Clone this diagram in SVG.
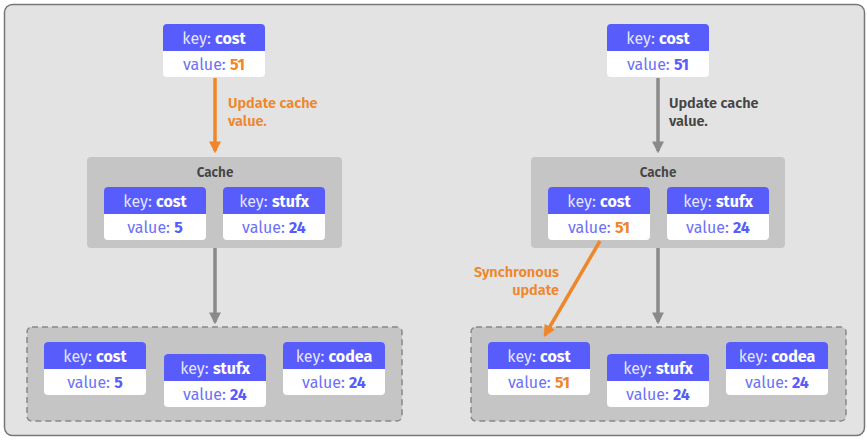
<svg xmlns="http://www.w3.org/2000/svg" width="867" height="440" viewBox="0 0 867 440">
<style>
text{font-family:"Fira Sans","Noto Sans","Open Sans",sans-serif}
.hd{fill:#575cfb}
.bd{fill:#fff}
.k{fill:#fff;font-size:16px;text-anchor:middle;fill-opacity:0.85}
.k tspan{font-weight:700;fill-opacity:1}
.v{fill:#6d71f7;font-size:16px;text-anchor:middle}
.v tspan{font-weight:700;fill:#575cfb}
.v tspan.o{fill:#ef8629}
.cache{fill:#c5c5c5}
.store{fill:#c5c5c5;stroke:#888;stroke-width:1.5;stroke-dasharray:6 4}
.title{font-size:13.5px;font-weight:600;fill:#444;text-anchor:middle}
.lbl{font-size:14.5px;font-weight:600}
.ga{stroke:#8a8a8a;stroke-width:3.5;fill:none}
.oa{stroke:#ef8629;stroke-width:3.5;fill:none}
</style>
<defs>
<marker id="mg" viewBox="0 0 10 10" refX="8" refY="5" markerWidth="3.4" markerHeight="3.4" orient="auto" markerUnits="strokeWidth"><path d="M0,0 L10,5 L0,10 Z" fill="#8a8a8a"/></marker>
<marker id="mo" viewBox="0 0 10 10" refX="8" refY="5" markerWidth="3.4" markerHeight="3.4" orient="auto" markerUnits="strokeWidth"><path d="M0,0 L10,5 L0,10 Z" fill="#ef8629"/></marker>
<g id="nodeshape">
<rect class="bd" x="0" y="0" width="102" height="53" rx="4"/>
<path class="hd" d="M0,27 V4 Q0,0 4,0 H98 Q102,0 102,4 V27 Z"/>
</g>
</defs>
<rect x="4.5" y="4.5" width="860" height="431" rx="8" fill="#e3e3e3" stroke="#777" stroke-width="1.5"/>

<g id="left-cache">
<rect class="cache" x="87" y="157" width="255" height="91" rx="4"/>
<text class="title" x="215" y="177">Cache</text>
</g>
<g id="left-store">
<rect class="store" x="27" y="327" width="375" height="94" rx="5"/>
</g>
<g id="right-cache">
<rect class="cache" x="531" y="157" width="254" height="91" rx="4"/>
<text class="title" x="658" y="177">Cache</text>
</g>
<g id="right-store">
<rect class="store" x="471" y="327" width="375" height="94" rx="5"/>
</g>

<g id="connectors">
<line class="oa" x1="215" y1="78" x2="215" y2="151" marker-end="url(#mo)"/>
<line class="ga" x1="215" y1="248" x2="215" y2="322" marker-end="url(#mg)"/>
<line class="ga" x1="658" y1="78" x2="658" y2="151" marker-end="url(#mg)"/>
<line class="ga" x1="658" y1="248" x2="658" y2="322" marker-end="url(#mg)"/>
<line class="oa" x1="600" y1="241" x2="545" y2="335" marker-end="url(#mo)"/>
<text class="lbl" fill="#ef8629" x="228" y="108">Update cache</text>
<text class="lbl" fill="#ef8629" x="228" y="126">value.</text>
<text class="lbl" fill="#444" x="669" y="108">Update cache</text>
<text class="lbl" fill="#444" x="669" y="126">value.</text>
<text class="lbl" fill="#ef8629" x="559" y="277" text-anchor="end">Synchronous</text>
<text class="lbl" fill="#ef8629" x="559" y="295" text-anchor="end">update</text>
</g>

<g id="l-top" transform="translate(163,24)"><use href="#nodeshape"/><text class="k" x="51" y="19.5">key: <tspan>cost</tspan></text><text class="v" x="51" y="45.5">value: <tspan class="o">51</tspan></text></g>
<g id="l-cache-cost" transform="translate(104,187)"><use href="#nodeshape"/><text class="k" x="51" y="19.5">key: <tspan>cost</tspan></text><text class="v" x="51" y="45.5">value: <tspan>5</tspan></text></g>
<g id="l-cache-stufx" transform="translate(223,187)"><use href="#nodeshape"/><text class="k" x="51" y="19.5">key: <tspan>stufx</tspan></text><text class="v" x="51" y="45.5">value: <tspan>24</tspan></text></g>
<g id="l-db-cost" transform="translate(44,342)"><use href="#nodeshape"/><text class="k" x="51" y="19.5">key: <tspan>cost</tspan></text><text class="v" x="51" y="45.5">value: <tspan>5</tspan></text></g>
<g id="l-db-stufx" transform="translate(164,354)"><use href="#nodeshape"/><text class="k" x="51" y="19.5">key: <tspan>stufx</tspan></text><text class="v" x="51" y="45.5">value: <tspan>24</tspan></text></g>
<g id="l-db-codea" transform="translate(283,342)"><use href="#nodeshape"/><text class="k" x="51" y="19.5">key: <tspan>codea</tspan></text><text class="v" x="51" y="45.5">value: <tspan>24</tspan></text></g>

<g id="r-top" transform="translate(607,24)"><use href="#nodeshape"/><text class="k" x="51" y="19.5">key: <tspan>cost</tspan></text><text class="v" x="51" y="45.5">value: <tspan>51</tspan></text></g>
<g id="r-cache-cost" transform="translate(548,187)"><use href="#nodeshape"/><text class="k" x="51" y="19.5">key: <tspan>cost</tspan></text><text class="v" x="51" y="45.5">value: <tspan class="o">51</tspan></text></g>
<g id="r-cache-stufx" transform="translate(667,187)"><use href="#nodeshape"/><text class="k" x="51" y="19.5">key: <tspan>stufx</tspan></text><text class="v" x="51" y="45.5">value: <tspan>24</tspan></text></g>
<g id="r-db-cost" transform="translate(488,342)"><use href="#nodeshape"/><text class="k" x="51" y="19.5">key: <tspan>cost</tspan></text><text class="v" x="51" y="45.5">value: <tspan class="o">51</tspan></text></g>
<g id="r-db-stufx" transform="translate(607,354)"><use href="#nodeshape"/><text class="k" x="51" y="19.5">key: <tspan>stufx</tspan></text><text class="v" x="51" y="45.5">value: <tspan>24</tspan></text></g>
<g id="r-db-codea" transform="translate(726,342)"><use href="#nodeshape"/><text class="k" x="51" y="19.5">key: <tspan>codea</tspan></text><text class="v" x="51" y="45.5">value: <tspan>24</tspan></text></g>
</svg>
